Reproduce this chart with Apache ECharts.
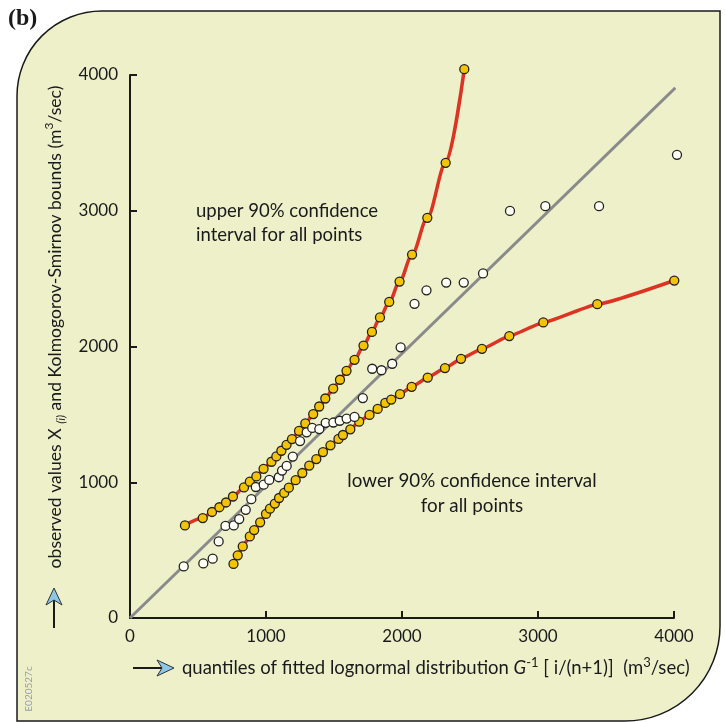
<!DOCTYPE html>
<html>
<head>
<meta charset="utf-8">
<script src="https://cdn.jsdelivr.net/npm/echarts@6/dist/echarts.min.js"></script>
<style>
html,body{margin:0;padding:0;background:#fff;}
#c{width:725px;height:722px;}
</style>
</head>
<body>
<div id="c"></div>
<script>
// ---- data (m3/sec) ----
const xTicks = [0, 1000, 2000, 3000, 4000];
const yTicks = [0, 1000, 2000, 3000, 4000];

// Kolmogorov-Smirnov upper 90% bound
const upperBound = [[404,682],[535,736],[603,781],[657,816],[706,851],[757,895],[838,962],[881,1004],[929,1043],[982,1099],[1040,1151],[1076,1190],[1113,1232],[1151,1276],[1191,1318],[1243,1378],[1289,1433],[1347,1502],[1391,1558],[1436,1617],[1494,1690],[1544,1755],[1592,1821],[1651,1902],[1717,2007],[1779,2107],[1838,2214],[1906,2328],[1982,2478],[2074,2677],[2186,2948],[2321,3353],[2458,4043]];

// Kolmogorov-Smirnov lower 90% bound
const lowerBound = [[761,398],[792,462],[829,527],[881,601],[913,648],[957,705],[1000,767],[1029,805],[1065,843],[1096,884],[1134,921],[1168,960],[1218,1015],[1267,1068],[1318,1123],[1370,1171],[1419,1222],[1474,1272],[1533,1319],[1566,1348],[1620,1390],[1685,1446],[1761,1496],[1821,1540],[1877,1584],[1921,1609],[1985,1649],[2071,1703],[2189,1771],[2316,1841],[2434,1909],[2588,1983],[2789,2077],[3039,2177],[3436,2312],[4002,2486]];

// observed values X(i)
const observed = [[395,380],[539,402],[608,437],[652,564],[702,678],[763,682],[803,729],[851,797],[892,875],[925,965],[983,982],[1024,1017],[1094,1037],[1118,1086],[1152,1120],[1197,1189],[1250,1303],[1299,1368],[1340,1400],[1392,1392],[1439,1438],[1495,1440],[1542,1453],[1593,1469],[1651,1481],[1712,1620],[1781,1836],[1849,1825],[1928,1873],[1990,1994],[2092,2314],[2180,2414],[2325,2471],[2454,2471],[2596,2538],[2794,2999],[3054,3034],[3449,3034],[4022,3412]];

// fitted line
const fitLine = [[0,0],[4010,3905]];

// ---- styling ----
const FONT = 'Lato, "Open Sans", sans-serif';
const INK = '#1a1a1a';
const PANEL = '#EEF0CA';
const RED = '#DD3322';
const YELLOW = '#F5C400';

const chart = echarts.init(document.getElementById('c'), null, {renderer: 'canvas'});

function richSet(fs) {
  return {
    n:   {fontSize: fs, fontFamily: FONT, fill: INK, color: INK, lineHeight: 24},
    it:  {fontSize: fs, fontFamily: FONT, fontStyle: 'italic', fill: INK, color: INK, lineHeight: 24},
    sup: {fontSize: Math.round(fs * 0.68), fontFamily: FONT, fill: INK, color: INK, lineHeight: 13, verticalAlign: 'top'},
    sub: {fontSize: Math.round(fs * 0.7), fontFamily: FONT, fontStyle: 'italic', fill: INK, color: INK, lineHeight: 13, verticalAlign: 'bottom'}
  };
}

const option = {
  animation: false,
  backgroundColor: '#ffffff',
  grid: {left: 130, right: 51, top: 75, bottom: 104, containLabel: false},
  xAxis: {
    type: 'value', min: 0, max: 4000, interval: 1000,
    axisLine: {show: true, onZero: false, lineStyle: {color: INK, width: 2}},
    axisTick: {show: true, inside: true, length: 7, lineStyle: {color: INK, width: 2}},
    axisLabel: {fontSize: 17, fontFamily: FONT, color: INK, margin: 10,
      formatter: v => xTicks.includes(v) ? String(v) : ''},
    splitLine: {show: false}
  },
  yAxis: {
    type: 'value', min: 0, max: 4000, interval: 1000,
    axisLine: {show: true, onZero: false, lineStyle: {color: INK, width: 2}},
    axisTick: {show: true, inside: true, length: 7, lineStyle: {color: INK, width: 2}},
    axisLabel: {fontSize: 17, fontFamily: FONT, color: INK, margin: 12,
      formatter: v => yTicks.includes(v) ? String(v) : ''},
    splitLine: {show: false}
  },
  graphic: [
    {type: 'rect', z: -10, shape: {x: 17, y: 11, width: 703, height: 710, r: [85, 0, 95, 0]},
     style: {fill: PANEL, stroke: INK, lineWidth: 1.5}},
    {type: 'text', left: 8, top: 7, z: 10,
     style: {text: '(b)', font: 'bold 24px "Liberation Serif", serif', fill: INK}},
    {type: 'text', x: 29, y: 689, rotation: Math.PI / 2, z: 10,
     style: {text: 'E020527c', fontSize: 10, fontFamily: FONT, fill: '#9aa0a8', align: 'center', verticalAlign: 'middle'}},
    // y-axis title
    {type: 'text', x: 55, y: 327, rotation: Math.PI / 2, z: 10,
     style: {text: '{n|observed values X }{sub|(i)}{n| and Kolmogorov-Smirnov bounds (m}{sup|3}{n|/sec)}',
       rich: richSet(17.6), align: 'center', verticalAlign: 'middle', fill: INK}},
    // y arrow
    {type: 'line', z: 10, shape: {x1: 54, y1: 628, x2: 54, y2: 600}, style: {stroke: INK, lineWidth: 2}},
    {type: 'polygon', z: 11, shape: {points: [[54, 588], [62, 605], [54, 600], [46, 605]]},
     style: {fill: '#8EC6E6', stroke: '#333', lineWidth: 1}},
    // x-axis title
    {type: 'text', x: 182, y: 668, z: 10,
     style: {text: '{n|quantiles of fitted lognormal distribution }{it|G}{sup|-1}{n| [ i/(n+1)]  (m}{sup|3}{n|/sec)}',
       rich: richSet(18.5), align: 'left', verticalAlign: 'middle', fill: INK}},
    // x arrow
    {type: 'line', z: 10, shape: {x1: 133, y1: 668, x2: 162, y2: 668}, style: {stroke: INK, lineWidth: 2}},
    {type: 'polygon', z: 11, shape: {points: [[174, 668], [157, 660], [162, 668], [157, 676]]},
     style: {fill: '#8EC6E6', stroke: '#333', lineWidth: 1}},
    // annotations
    {type: 'text', x: 196, y: 199, z: 10,
     style: {text: 'upper 90% confidence\ninterval for all points', fontSize: 18.5, fontFamily: FONT,
       fill: INK, lineHeight: 24, align: 'left', verticalAlign: 'top'}},
    {type: 'text', x: 472, y: 468, z: 10,
     style: {text: 'lower 90% confidence interval\nfor all points', fontSize: 18.8, fontFamily: FONT,
       fill: INK, lineHeight: 25, align: 'center', verticalAlign: 'top'}}
  ],
  series: [
    {type: 'line', data: fitLine, symbol: 'none', z: 1, clip: false,
     lineStyle: {color: '#8a8a8a', width: 3}},
    {type: 'line', data: upperBound, z: 2, clip: false, smooth: 0.3, smoothMonotone: 'x',
     symbol: 'circle', symbolSize: 9, showAllSymbol: true,
     lineStyle: {color: RED, width: 3.5},
     itemStyle: {color: YELLOW, borderColor: '#222', borderWidth: 1.3}},
    {type: 'line', data: lowerBound, z: 2, clip: false, smooth: 0.12, smoothMonotone: 'x',
     symbol: 'circle', symbolSize: 9, showAllSymbol: true,
     lineStyle: {color: RED, width: 3.5},
     itemStyle: {color: YELLOW, borderColor: '#222', borderWidth: 1.3}},
    {type: 'scatter', data: observed, z: 3, clip: false, symbol: 'circle', symbolSize: 9,
     itemStyle: {color: '#FFFFF6', borderColor: '#222', borderWidth: 1.3, opacity: 1}}
  ]
};
chart.setOption(option);
</script>
</body>
</html>
